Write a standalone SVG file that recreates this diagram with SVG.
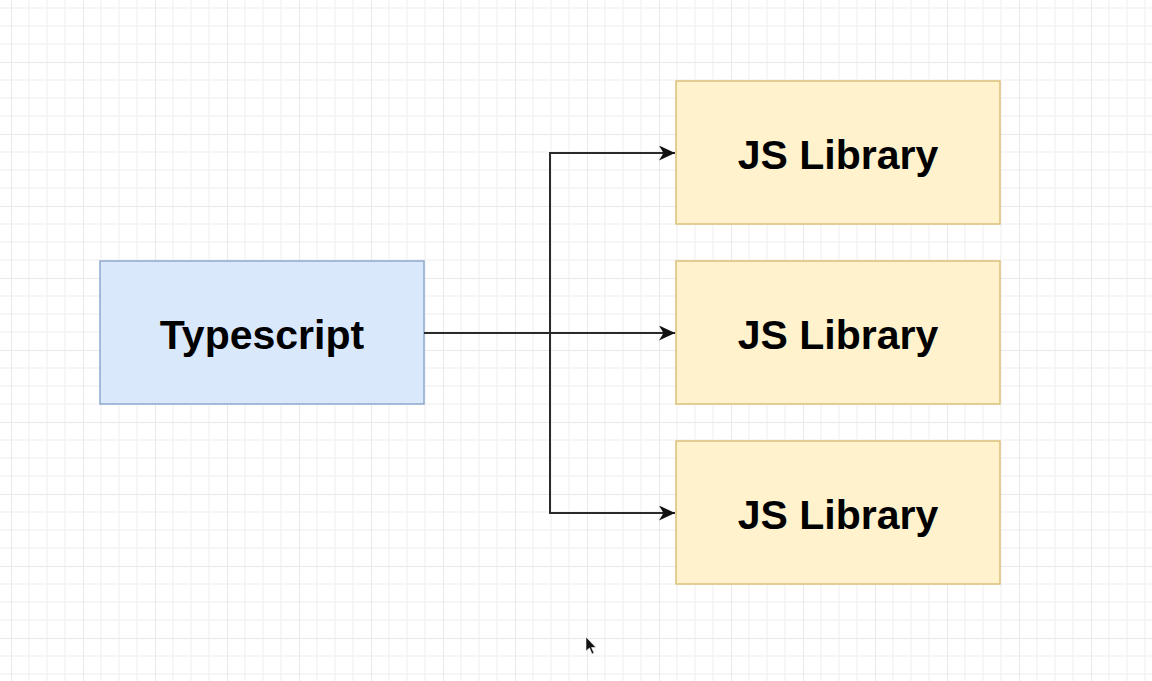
<svg xmlns="http://www.w3.org/2000/svg" width="1152" height="681" viewBox="0 0 1152 681">
  <defs>
    <!-- background grid: minor every 18px, major every 72px -->
    <pattern id="grid" x="11" y="62" width="72" height="72" patternUnits="userSpaceOnUse">
      <path d="M18 0V72M36 0V72M54 0V72M0 18H72M0 36H72M0 54H72" stroke="#f4f4f4" stroke-width="1.5" fill="none"/>
      <path d="M0 0V72M0 0H72" stroke="#e9e9e9" stroke-width="2" fill="none"/>
    </pattern>
    <marker id="arrow" markerUnits="userSpaceOnUse" markerWidth="18" markerHeight="18" refX="16" refY="7.5" orient="auto">
      <path d="M0 0L16 7.5L0 15L4.5 7.5Z" fill="#111"/>
    </marker>
    <style>
      .ts { fill: #dae8fc; stroke: #8fa8cc; stroke-width: 1.5; }
      .lib { fill: #fff2cc; stroke: #dcc07a; stroke-width: 1.5; }
      .label { font-family: "Liberation Sans", Arial, sans-serif; font-weight: bold; font-size: 41px; fill: #000; text-anchor: middle; }
      .edge { fill: none; stroke: #2a2a2a; stroke-width: 2; }
    </style>
  </defs>

  <rect width="1152" height="681" fill="#ffffff"/>
  <rect width="1152" height="681" fill="url(#grid)"/>

  <g id="typescript">
    <rect class="ts" x="100" y="261" width="324" height="143"/>
    <text class="label" x="262" y="349">Typescript</text>
  </g>

  <g id="lib1">
    <rect class="lib" x="676" y="81" width="324" height="143"/>
    <text class="label" x="838" y="169">JS Library</text>
  </g>

  <g id="lib2">
    <rect class="lib" x="676" y="261" width="324" height="143"/>
    <text class="label" x="838" y="349">JS Library</text>
  </g>

  <g id="lib3">
    <rect class="lib" x="676" y="441" width="324" height="143"/>
    <text class="label" x="838" y="529">JS Library</text>
  </g>

  <g id="connectors">
    <path class="edge" d="M424 333H675" marker-end="url(#arrow)"/>
    <path class="edge" d="M550 333V153H675" marker-end="url(#arrow)"/>
    <path class="edge" d="M550 333V513H675" marker-end="url(#arrow)"/>
  </g>

  <!-- mouse pointer -->
  <path d="M586 637L586 651L589.5 648L592 654L594 653L591.5 647.5L596 647.5Z" fill="#111" stroke="#fff" stroke-width="0.6"/>
</svg>
